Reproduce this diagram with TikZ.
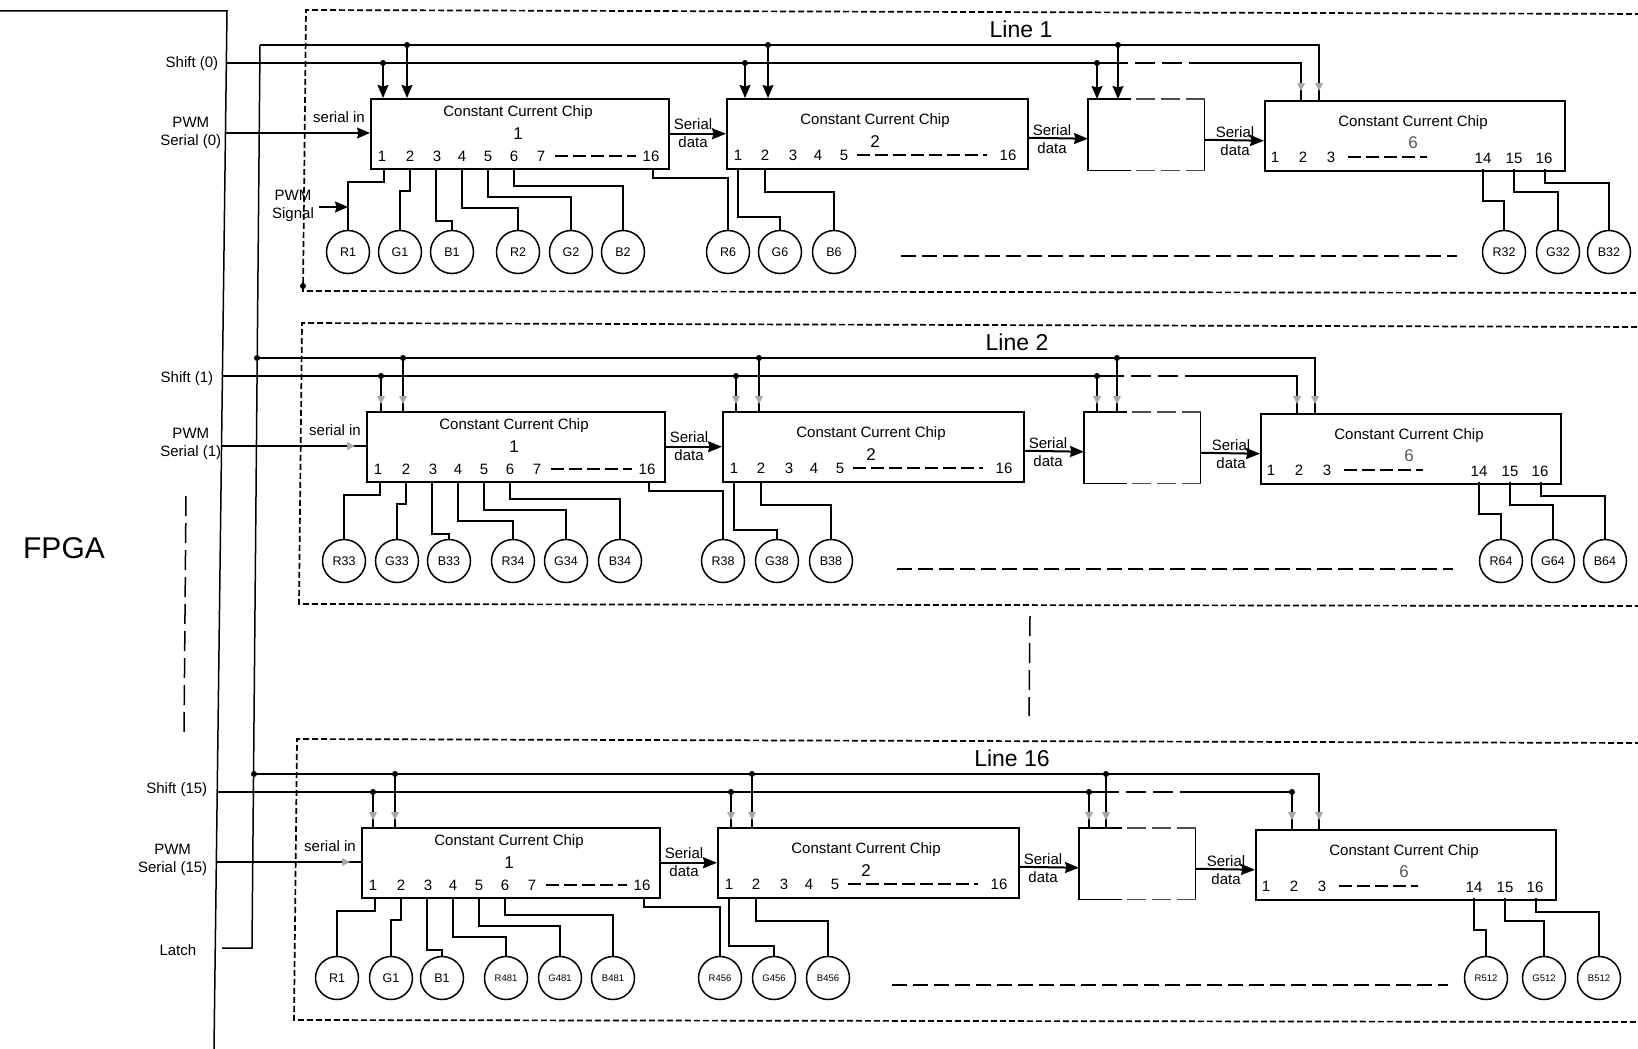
\documentclass[tikz,border=0pt]{standalone}
\usepackage{fontspec}
\setmainfont{Liberation Sans}
\usetikzlibrary{arrows.meta}

\newcommand{\txtsize}[1]{\fontsize{#1}{#1}\selectfont}
\newcommand{\ledtiny}{\fontsize{9.5}{10}\selectfont}

\begin{document}
\begin{tikzpicture}[x=1pt,y=-1pt,line width=1.5pt,font=\txtsize{15},
    chipbox/.style={anchor=north west,minimum height=70pt,inner sep=0pt},
    txtlabel/.style={inner sep=0pt,align=center,font=\fontsize{15}{18}\selectfont},
    ledcircle/.style={draw,circle,minimum size=43pt,inner sep=0pt,font=\txtsize{12.5}},
    dotmark/.style={fill,circle,minimum size=6pt,inner sep=0pt},
    tapsolid/.style={-{Stealth[length=13pt,width=11pt,inset=1.5pt]}},
    tapplain/.style={},
    serialarrow/.style={line width=2pt,-{Stealth[length=14pt,width=11pt,inset=1.5pt]}},
    boxline/.style={line width=1.7pt,dash pattern=on 6pt off 3pt},
    longdash/.style={line width=1.6pt,dash pattern=on 15pt off 6pt},
    faintmark/.style={gray!70},
    fadedash/.style={black!70,dash pattern=on 19pt off 6pt},
    busgap/.style={white,line width=2.4pt,dash pattern=on 7pt off 20pt}]
  \useasboundingbox (0,0) rectangle (1638,1049);
  \foreach \id/\dx/\dy/\ledy/\tap/\taplist/\ltx/\endl/\ledlist in {
    1/0/0/252/tapsolid/{A/383/407,B/745/768,C/1097/1118}/260/1319/{1/R1/348,2/G1/400,3/B1/452,4/R2/518,5/G2/571,6/B2/623,7/R6/728,8/G6/780,9/B6/834,10/R32/1504,11/G32/1558,12/B32/1609},
    2/-4/313/248/tapplain/{A/385/407,B/740/763,C/1101/1121}/261/1319/{1/R33/348,2/G33/401,3/B33/453,4/R34/517,5/G34/570,6/B34/624,7/R38/727,8/G38/781,9/B38/835,10/R64/1505,11/G64/1557,12/B64/1609},
    16/-9/729/249/tapplain/{A/382/404,B/740/761,C/1098/1115}/263/1328/{1/R1/346,2/G1/400,3/B1/451,4/{\ledtiny R481}/515,5/{\ledtiny G481}/569,6/{\ledtiny B481}/622,7/{\ledtiny R456}/729,8/{\ledtiny G456}/783,9/{\ledtiny B456}/837,10/{\ledtiny R512}/1495,11/{\ledtiny G512}/1553,12/{\ledtiny B512}/1608}}{
    \begin{scope}[shift={(\dx,\dy)}]
      \node[txtlabel,font=\txtsize{23}] (title\id) at (1021,29) {Line \id};
      \draw[boxline] (1650,14) -- (306,10) -- (303,291) -- (1650,293);
      \coordinate (latch\id) at (\ltx,45);
      \coordinate (shift\id) at (226,63);
      \coordinate (pwm\id) at (226,133);
      \coordinate (endS\id) at (1301,100);
      \coordinate (endL\id) at (\endl,100);
      \node[chipbox,draw,minimum width=298pt] (chipA\id) at (370,98) {};
      \node[chipbox,draw,minimum width=301pt] (chipB\id) at (726,98) {};
      \node[chipbox,minimum width=115pt] (chipC\id) at (1088,99) {};
      \node[chipbox,draw,minimum width=300pt] (chipD\id) at (1264,100) {};
      \draw ([xshift=-15pt]chipC\id.north) -- (chipC\id.north west) -- (chipC\id.south west) -- ([xshift=-15pt]chipC\id.south);
      \draw (chipC\id.north east) -- (chipC\id.south east);
      \draw[fadedash] ([xshift=-10pt]chipC\id.north) -- (chipC\id.north east);
      \draw[fadedash] ([xshift=-10pt]chipC\id.south) -- (chipC\id.south east);
      \foreach \c/\tx/\ty/\ny/\t/\col in {A/518/113/134/1/black,B/875/121/142/2/black,D/1413/123/143/6/black!65}{
        \node[txtlabel] (name\id\c) at (\tx,\ty) {Constant Current Chip};
        \node[txtlabel,font=\txtsize{17},text=\col] (no\id\c) at (\tx,\ny) {\t};
      }
      \foreach \px/\py/\t in {382/156/1,410/156/2,437/156/3,462/156/4,488/156/5,514/156/6,541/156/7,651/156/16,
        738/155/1,765/155/2,793/155/3,818/155/4,844/155/5,1008/155/16,
        1275/157/1,1303/157/2,1331/157/3,1483/158/14,1514/158/15,1544/158/16}{
        \node[txtlabel] (num\id-\px) at (\px,\py) {\t};
      }
      \draw[dash pattern=on 13pt off 5pt] (555,156) -- (636,156);
      \draw[dash pattern=on 13pt off 5pt] (857,155) -- (987,155);
      \draw[dash pattern=on 13pt off 5pt] (1348,157) -- (1427,157);
      \draw (shift\id) -| (endS\id);
      \draw (latch\id) -| (endL\id);
      \draw[busgap] (1128,63) -- (1190,63);
      \foreach \c/\sx/\lx in \taplist {
        \coordinate (tapS\id\c) at (\sx,63);
        \coordinate (tapL\id\c) at (\lx,45);
        \node[dotmark] (dotS\id\c) at (tapS\id\c) {};
        \node[dotmark] (dotL\id\c) at (tapL\id\c) {};
        \draw[\tap] (tapS\id\c) -- (tapS\id\c |- chip\c\id.north);
        \draw[\tap] (tapL\id\c) -- (tapL\id\c |- chip\c\id.north);
        \ifnum\id>1
          \fill[faintmark] (\sx-4,83) -- (\sx+4,83) -- (\sx,91) -- cycle;
          \fill[faintmark] (\lx-4,83) -- (\lx+4,83) -- (\lx,91) -- cycle;
        \fi
      }
      \foreach \t in {1301,\endl} {
        \fill[faintmark] (\t-4,83) -- (\t+4,83) -- (\t,91) -- cycle;
      }
      \draw[\tap] (pwm\id) -- (pwm\id -| chipA\id.west);
      \ifnum\id>1
        \fill[faintmark] (351,129) -- (351,137) -- (359,133) -- cycle;
      \fi
      \node[txtlabel] (serialin\id) at (339,117) {serial in};
      \draw[serialarrow] (chipA\id) -- (chipB\id);
      \draw[serialarrow] ([yshift=-4pt]chipB\id.east) -- ([yshift=-4pt]chipC\id.west);
      \draw[serialarrow] ([yshift=-5pt]chipC\id.east) -- ([yshift=-5pt]chipD\id.west);
      \node[txtlabel] (serialA\id) at (693,133) {Serial\\data};
      \node[txtlabel] (serialB\id) at (1052,139) {Serial\\data};
      \node[txtlabel] (serialC\id) at (1235,141) {Serial\\data};
      \foreach \n/\lab/\lx in \ledlist {
        \node[ledcircle] (led\id-\n) at (\lx,\ledy) {\lab};
      }
      \foreach \n/\px/\ey in {1/384/182,2/410/191,3/436/221,4/462/208,5/488/197,6/514/186,
        7/653/178,8/738/217,9/765/192,10/1483/201,11/1514/192,12/1545/183}{
        \coordinate (pin\id-\n) at (\px,168.5);
        \draw (pin\id-\n) -- (\px,\ey) -| (led\id-\n);
      }
      \coordinate (dashA\id) at (901,256);
      \coordinate (dashB\id) at (1457,256);
      \draw[longdash] (dashA\id) -- (dashB\id);
    \end{scope}
  }
  \foreach \id/\k/\xs/\ys/\xp/\yp in {1/0/219/64/222/133,2/1/214/379/222/444,16/15/208/790/208/860}{
    \node[txtlabel,anchor=east] (shiftlabel\id) at (\xs,\ys) {Shift (\k)};
    \node[txtlabel,anchor=east] (pwmlabel\id) at (\xp,\yp) {PWM\\Serial (\k)};
  }
  \coordinate (fpgaA) at (0,11);
  \coordinate (fpgaB) at (227,11);
  \coordinate (fpgaC) at (214,1049);
  \draw (fpgaA) -- (fpgaB) -- (fpgaC);
  \node[txtlabel,font=\txtsize{30}] (fpga) at (64,548) {FPGA};
  \coordinate (latchOut) at (222,948);
  \coordinate (latchFoot) at (252,948);
  \node[txtlabel,anchor=east] (latchlabel) at (197,950) {Latch};
  \draw (latchOut) -- (latchFoot) -- (latch1);
  \node[dotmark] (latchdotA) at (latch2) {};
  \node[dotmark] (latchdotB) at (latch16) {};
  \node[dotmark] (boxdot) at (303,286) {};
  \node[dotmark] (shiftdot) at (endS16 |- shift16) {};
  \node[txtlabel] (pwmsignal) at (293,206) {PWM\\Signal};
  \coordinate (sigtip) at (348,207);
  \draw[tapsolid] ([xshift=4pt]pwmsignal.east |- sigtip) -- (sigtip);
  \coordinate (vdashA) at (186,496);
  \coordinate (vdashB) at (184,733);
  \draw[dash pattern=on 20pt off 7pt] (vdashA) -- (vdashB);
  \coordinate (vdashC) at (1030,616);
  \coordinate (vdashD) at (1029,716);
  \draw[dash pattern=on 20pt off 7pt] (vdashC) -- (vdashD);
\end{tikzpicture}
\end{document}
